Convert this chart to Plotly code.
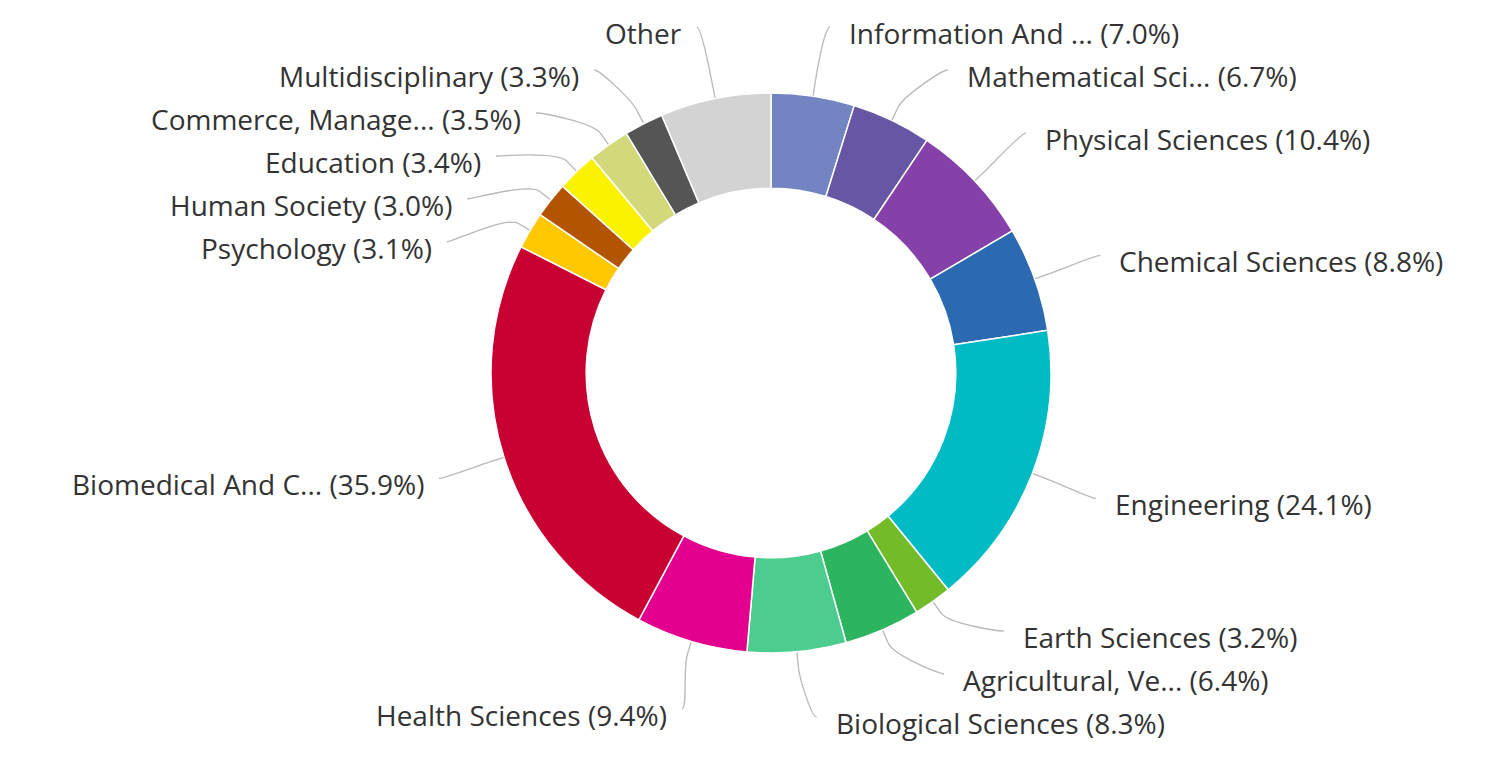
import math
import plotly.graph_objects as go

# ---- data ----
categories = [
    "Information And ...", "Mathematical Sci...", "Physical Sciences",
    "Chemical Sciences", "Engineering", "Earth Sciences",
    "Agricultural, Ve...", "Biological Sciences", "Health Sciences",
    "Biomedical And C...", "Psychology", "Human Society", "Education",
    "Commerce, Manage...", "Multidisciplinary", "Other",
]
values = [7.0, 6.7, 10.4, 8.8, 24.1, 3.2, 6.4, 8.3, 9.4, 35.9,
          3.1, 3.0, 3.4, 3.5, 3.3, 9.3]
show_pct = [True] * 15 + [False]
colors = [
    "#7384c2", "#6656a4", "#8540a9", "#2b6ab0", "#00bac4", "#74bb2a",
    "#2cb55e", "#4ccd8f", "#e4008e", "#c90032", "#ffc800", "#b35400",
    "#fbf200", "#d3d87a", "#555555", "#d3d3d3",
]

# ---- layout constants (pixels, page coordinates) ----
W, H = 1498, 757
OFF = 8            # default body margin of the html page
CX, CY = 771, 373
R_OUT = 280
HOLE = 0.66
LABEL_R = 350
X_CY, X_R = 371, 349
TOP, BOTTOM = 27, 717
SPACING = 43
GAP_RIGHT, GAP_LEFT = 17, 13
TEXT_DY = 6
BREAK_OFF = 14
FONT = "Open Sans"
FONT_SIZE = 28


def px(x):
    return (x - OFF) / W


def py(y):
    return 1 - (y - OFF) / H


labels = [f"{c} ({v:.1f}%)" if s else c for c, v, s in zip(categories, values, show_pct)]

total = sum(values)
angles = []
cum = 0.0
for v in values:
    angles.append((cum + v / 2) / total * 2 * math.pi)
    cum += v


def distribute(idx_list):
    """Place labels in clusters centred on their natural positions."""
    items = sorted(idx_list, key=lambda t: t[1])
    clusters = [[it] for it in items]

    def start_of(cl):
        n = len(cl)
        mean = sum(t for _, t in cl) / n
        s = mean - (n - 1) * SPACING / 2
        return min(max(s, TOP), BOTTOM - (n - 1) * SPACING)

    merged = True
    while merged:
        merged = False
        for k in range(len(clusters) - 1):
            a, b = clusters[k], clusters[k + 1]
            if start_of(b) < start_of(a) + len(a) * SPACING:
                clusters[k] = a + b
                del clusters[k + 1]
                merged = True
                break
    out = {}
    for cl in clusters:
        s = start_of(cl)
        for j, (i, _) in enumerate(cl):
            out[i] = s + j * SPACING
    return out


natural = [CY - LABEL_R * math.cos(a) for a in angles]
right = [(i, natural[i]) for i, a in enumerate(angles) if a < math.pi]
left = [(i, natural[i]) for i, a in enumerate(angles) if a >= math.pi]
ypos = {}
ypos.update(distribute(right))
ypos.update(distribute(left))

annotations = []
shapes = []
for i, a in enumerate(angles):
    is_right = a < math.pi
    sgn = 1 if is_right else -1
    ay = ypos[i]
    y_for_x = natural[i] if abs(natural[i] - CY) < abs(ay - CY) else ay
    dy = y_for_x - X_CY
    ax = CX + sgn * math.sqrt(max(X_R ** 2 - dy ** 2, 0))
    tx, ty = CX + R_OUT * math.sin(a), CY - R_OUT * math.cos(a)
    bx, by = CX + (R_OUT + BREAK_OFF) * math.sin(a), CY - (R_OUT + BREAK_OFF) * math.cos(a)
    c1x, c1y = ax - sgn * 5, ay
    c2x, c2y = 2 * bx - tx, 2 * by - ty
    path = (f"M {px(ax)},{py(ay)} C {px(c1x)},{py(c1y)} {px(c2x)},{py(c2y)} "
            f"{px(bx)},{py(by)} L {px(tx)},{py(ty)}")
    shapes.append(dict(type="path", path=path, xref="paper", yref="paper",
                       line=dict(color="#b8b8b8", width=1.3), layer="below"))
    gap = GAP_RIGHT if is_right else GAP_LEFT
    annotations.append(dict(
        x=px(ax + sgn * gap), y=py(ay + TEXT_DY), xref="paper", yref="paper",
        text=labels[i], showarrow=False,
        xanchor="left" if is_right else "right", yanchor="middle",
        font=dict(family=FONT, size=FONT_SIZE, color="#333333"),
    ))

fig = go.Figure(go.Pie(
    labels=categories, values=values, sort=False, direction="clockwise",
    rotation=0, hole=HOLE, textinfo="none", hoverinfo="skip",
    marker=dict(colors=colors, line=dict(color="#ffffff", width=1.5)),
    domain=dict(x=[px(CX - R_OUT), px(CX + R_OUT)],
                y=[py(CY + R_OUT), py(CY - R_OUT)]),
    showlegend=False,
))
fig.update_layout(
    width=W, height=H, margin=dict(l=0, r=0, t=0, b=0),
    paper_bgcolor="white", plot_bgcolor="white",
    annotations=annotations, shapes=shapes,
)
fig.write_html("out.html")
